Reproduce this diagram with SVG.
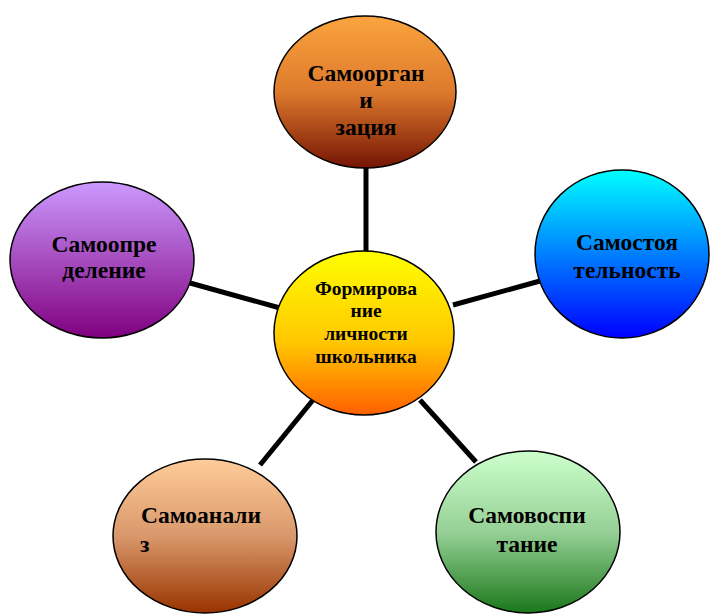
<svg xmlns="http://www.w3.org/2000/svg" width="711" height="614" viewBox="0 0 711 614">
<style>
.n{stroke:#000;stroke-width:1.5}
.t{font-family:"Liberation Serif","Times New Roman",serif;font-weight:bold;fill:#000;text-anchor:middle}
.big{font-size:23.5px}
.small{font-size:19.5px}
.c line{stroke:#000;stroke-width:5}
</style>
<defs>
<linearGradient id="gTop" x1="0" y1="0" x2="0" y2="1"><stop offset="0" stop-color="#FBA43E"/><stop offset="0.5" stop-color="#DD7A2C"/><stop offset="1" stop-color="#751404"/></linearGradient>
<linearGradient id="gCen" x1="0" y1="0" x2="0" y2="1"><stop offset="0" stop-color="#FFFF00"/><stop offset="0.55" stop-color="#FFC800"/><stop offset="1" stop-color="#FF6000"/></linearGradient>
<linearGradient id="gR" x1="0" y1="0" x2="0" y2="1"><stop offset="0" stop-color="#00FFFF"/><stop offset="1" stop-color="#0000FF"/></linearGradient>
<linearGradient id="gL" x1="0" y1="0" x2="0" y2="1"><stop offset="0" stop-color="#CC99FF"/><stop offset="1" stop-color="#800080"/></linearGradient>
<linearGradient id="gBL" x1="0" y1="0" x2="0" y2="1"><stop offset="0" stop-color="#FFCC99"/><stop offset="0.5" stop-color="#D9986B"/><stop offset="1" stop-color="#993300"/></linearGradient>
<linearGradient id="gBR" x1="0" y1="0" x2="0" y2="1"><stop offset="0" stop-color="#CCFFCC"/><stop offset="0.5" stop-color="#96D096"/><stop offset="1" stop-color="#1A781A"/></linearGradient>
</defs>
<g id="connectors" class="c">
<line x1="366" y1="166" x2="366" y2="252"/>
<line x1="190" y1="283" x2="280" y2="308"/>
<line x1="453" y1="305" x2="540" y2="281"/>
<line x1="260" y1="465" x2="313" y2="400"/>
<line x1="420" y1="400" x2="476" y2="462"/>
</g>
<g id="n-top">
<ellipse class="n" cx="365" cy="92" rx="91" ry="76" fill="url(#gTop)"/>
<text class="t big" x="366" y="81">Самоорган</text>
<text class="t big" x="366" y="108">и</text>
<text class="t big" x="366" y="135">зация</text>
</g>
<g id="n-center">
<ellipse class="n" cx="364" cy="333" rx="90" ry="82" fill="url(#gCen)"/>
<text class="t small" x="366" y="295">Формирова</text>
<text class="t small" x="366" y="317">ние</text>
<text class="t small" x="366" y="340">личности</text>
<text class="t small" x="366" y="363">школьника</text>
</g>
<g id="n-right">
<ellipse class="n" cx="622" cy="254" rx="87" ry="84" fill="url(#gR)"/>
<text class="t big" x="627" y="250">Самостоя</text>
<text class="t big" x="627" y="278">тельность</text>
</g>
<g id="n-left">
<ellipse class="n" cx="102" cy="260" rx="92" ry="78" fill="url(#gL)"/>
<text class="t big" x="104" y="252">Самоопре</text>
<text class="t big" x="104" y="278">деление</text>
</g>
<g id="n-bottom-left">
<ellipse class="n" cx="205" cy="536" rx="92" ry="77" fill="url(#gBL)"/>
<text class="t big" x="201" y="523">Самоанали</text>
<text class="t big" x="140" y="552" style="text-anchor:start">з</text>
</g>
<g id="n-bottom-right">
<ellipse class="n" cx="528" cy="532" rx="92" ry="81" fill="url(#gBR)"/>
<text class="t big" x="527" y="523">Самовоспи</text>
<text class="t big" x="527" y="552">тание</text>
</g>
</svg>
